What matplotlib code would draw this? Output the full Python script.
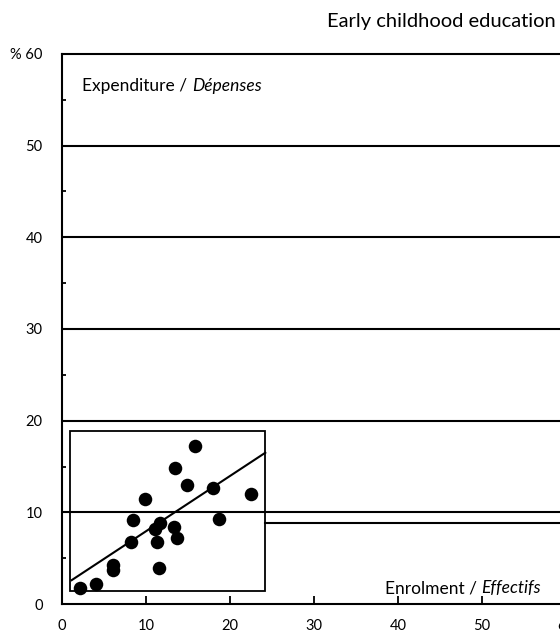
import matplotlib
matplotlib.use("Agg")
import matplotlib.pyplot as plt
from matplotlib.patches import Rectangle
from matplotlib.ticker import MultipleLocator, FixedLocator

plt.rcParams['font.family'] = ['Lato', 'DejaVu Sans']

# Enrolment (%) vs expenditure (%) per country
enrolment = [2.2, 4.0, 6.1, 6.1, 8.2, 8.4, 9.9, 11.5, 11.3, 11.1, 11.7,
             13.3, 13.7, 13.5, 15.8, 14.9, 18.0, 18.7, 22.5]
expenditure = [1.8, 2.2, 4.3, 3.75, 6.8, 9.2, 11.5, 3.9, 6.8, 8.2, 8.8,
               8.4, 7.2, 14.8, 17.2, 13.0, 12.7, 9.3, 12.0]

# Regression line end points
fit_x = [1.15, 24.2]
fit_y = [2.6, 16.5]

# Reference levels
grid_levels = [10, 20, 30, 40, 50]
side_level = 8.8

x_ticks = [0, 10, 20, 30, 40, 50, 60]
y_ticks = [0, 10, 20, 30, 40, 50, 60]
y_tick_labels = ['0', '10', '20', '30', '40', '50', '% 60']

fig = plt.figure(figsize=(5.6, 6.41), dpi=100)
W, H = 560, 641
x0, y0, y_top = 62, 604, 54
px_per_x = 8.4
xmax = 66
ax = fig.add_axes([x0 / W, (H - y0) / H, xmax * px_per_x / W, (y0 - y_top) / H])
ax.set_xlim(0, xmax)
ax.set_ylim(0, 60)

ax.spines['right'].set_visible(False)
for s in ['left', 'bottom', 'top']:
    ax.spines[s].set_linewidth(1.5)
    ax.spines[s].set_color('black')

for lvl in grid_levels:
    ax.axhline(lvl, color='black', lw=1.5, zorder=1)

# inset frame around the scatter
bx0, bx1, by0, by1 = 0.95, 24.2, 1.4, 18.9
ax.add_patch(Rectangle((bx0, by0), bx1 - bx0, by1 - by0, fill=False,
                       ec='black', lw=1.3, zorder=2))
ax.plot([bx1, xmax], [side_level, side_level], color='black', lw=1.5, zorder=1)

ax.scatter(enrolment, expenditure, s=95, color='black', zorder=3, linewidths=0)
ax.plot(fit_x, fit_y, color='black', lw=1.5, zorder=3)

ax.xaxis.set_major_locator(FixedLocator(x_ticks))
ax.set_xticklabels([str(v) for v in x_ticks])
ax.tick_params(axis='x', which='major', direction='in', length=6, width=1.3,
               pad=11, labelsize=10.5)
ax.yaxis.set_major_locator(FixedLocator(y_ticks))
ax.set_yticklabels(y_tick_labels)
ax.yaxis.set_minor_locator(MultipleLocator(5))
ax.tick_params(axis='y', which='major', length=0, pad=14, labelsize=10.5)
ax.tick_params(axis='y', which='minor', direction='in', length=3, width=1.3)

fig.text(556 / W, 1 - 22 / H, 'Early childhood education', ha='right',
         va='center', fontsize=14.5)

t1 = ax.text(2.4, 56.0, 'Expenditure / ', ha='left', va='baseline', fontsize=12.5)
ax.annotate('Dépenses', xy=(1, 0), xycoords=t1, va='bottom', ha='left',
            fontsize=12.5, style='italic')

t2 = ax.text(38.4, 1.2, 'Enrolment / ', ha='left', va='baseline', fontsize=12.5)
ax.annotate('Effectifs', xy=(1, 0), xycoords=t2, va='bottom', ha='left',
            fontsize=12.5, style='italic')

fig.savefig('out.png', dpi=100)
